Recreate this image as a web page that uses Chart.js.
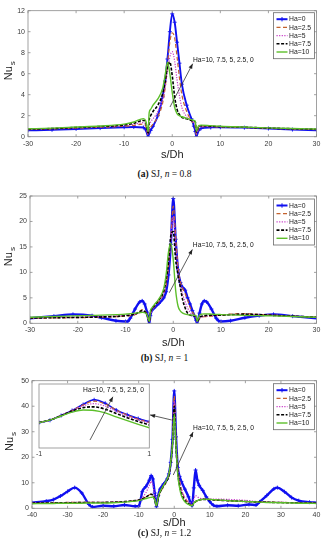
<!DOCTYPE html>
<html><head><meta charset="utf-8">
<script src="https://cdn.jsdelivr.net/npm/chart.js@4.4.1/dist/chart.umd.min.js"></script>
<style>
html,body{margin:0;padding:0;background:#fff;}
body{width:329px;height:550px;position:relative;overflow:hidden;}
canvas{position:absolute;display:block;}
.cap{position:absolute;left:0;width:329px;text-align:center;font-family:"Liberation Serif","DejaVu Serif",serif;font-size:9.5px;line-height:12px;color:#111;}
</style></head><body>
<canvas id="ca" width="329" height="165" style="left:0;top:0;width:329px;height:165px"></canvas>
<div class="cap" style="top:168px"><b>(a)</b> SJ, <i>n</i> = 0.8</div>
<canvas id="cb" width="329" height="170" style="left:0;top:180px;width:329px;height:170px"></canvas>
<div class="cap" style="top:352px"><b>(b)</b> SJ, <i>n</i> = 1</div>
<canvas id="cc" width="329" height="165" style="left:0;top:365px;width:329px;height:165px"></canvas>
<canvas id="ci" width="128" height="82" style="left:30px;top:378px;width:128px;height:82px"></canvas>
<div class="cap" style="top:527px"><b>(c)</b> SJ, <i>n</i> = 1.2</div>
<script>
// ---------- data ----------
const haLabels = ['Ha=0','Ha=2.5','Ha=5','Ha=7.5','Ha=10'];

// (a) n = 0.8
const xA = [-30,-25,-20,-15,-10,-8,-6,-5.5,-5,-4.8,-4.5,-4,-3,-2,-1.5,-1,-0.5,0,0.5,1,1.5,2,3,4,4.5,4.8,5,5.5,6,8,10,15,20,25,30];
const nuA_Ha0   = [0.6,0.66,0.74,0.82,0.9,0.92,0.88,0.65,0.0,0.35,0.6,1.0,2.0,3.8,5.3,7.4,10.0,11.7,10.9,9.0,7.0,5.0,3.0,1.7,1.0,0.5,0.0,0.6,0.8,0.88,0.9,0.86,0.78,0.68,0.6];
const nuA_Ha2_5 = [0.68,0.74,0.82,0.9,1.0,1.08,1.2,1.0,0.15,0.6,0.9,1.2,1.9,3.2,4.6,6.8,9.0,9.9,9.4,7.6,5.6,4.0,2.4,1.5,1.2,0.9,0.2,0.8,0.95,0.95,0.93,0.88,0.8,0.74,0.68];
const nuA_Ha5   = [0.7,0.76,0.85,0.93,1.05,1.17,1.35,1.15,0.25,1.0,1.4,1.7,2.4,3.6,4.6,6.2,7.6,8.1,7.2,5.4,3.9,2.8,1.9,1.5,1.35,1.2,0.3,0.9,1.0,0.97,0.95,0.89,0.81,0.75,0.7];
const nuA_Ha7_5 = [0.72,0.78,0.88,0.97,1.12,1.28,1.55,1.35,0.35,1.6,2.0,2.4,3.0,4.1,5.2,6.6,7.1,5.8,3.8,2.6,2.1,1.85,1.7,1.55,1.5,1.4,0.45,1.0,1.05,1.0,0.96,0.9,0.82,0.76,0.71];
const nuA_Ha10  = [0.75,0.82,0.92,1.02,1.2,1.4,1.72,1.5,0.5,2.3,2.6,3.0,3.6,4.6,5.8,7.1,6.0,4.2,2.8,2.2,2.0,1.9,1.75,1.62,1.55,1.45,0.55,1.05,1.1,1.05,1.0,0.92,0.84,0.78,0.73];
const xTicksA = [-30,-20,-10,0,10,20,30];
const yTicksA = [0,2,4,6,8,10,12];

// (b) n = 1
const xB = [-30,-25,-21,-17,-15,-12,-10,-9.5,-9,-8,-7,-6.5,-6,-5.5,-5,-4.8,-4.5,-4,-3,-2,-1.5,-1,-0.5,0,0.5,1,1.5,2,2.5,3,3.5,4,4.5,4.8,5,5.5,6,6.5,7,8,9,9.5,10,12,15,18,21,25,30];
const nuB_Ha0   = [1.0,1.4,1.75,1.5,1.1,0.5,0.35,0.4,1.0,2.8,4.2,4.4,3.8,2.2,0.0,1.5,2.5,3.0,3.9,5.0,6.2,9.5,15.5,24.5,16.5,10.5,8.0,7.0,6.5,5.0,3.8,2.5,1.3,0.6,0.0,2.0,3.8,4.4,4.2,2.8,1.0,0.5,0.35,0.5,1.1,1.5,1.75,1.4,1.0];
const nuB_Ha2_5 = [1.0,1.05,1.1,1.15,1.2,1.3,1.4,1.45,1.5,1.7,2.3,2.7,2.5,1.8,0.3,1.8,2.6,3.2,4.3,5.8,7.5,11,17,23,17,11,8.2,6.8,5.8,4.6,3.2,2.2,1.6,1.2,0.3,1.0,1.2,1.3,1.3,1.4,1.5,1.55,1.6,1.8,1.9,1.75,1.6,1.4,1.2];
const nuB_Ha5   = [1.05,1.15,1.2,1.3,1.35,1.45,1.55,1.6,1.65,1.8,2.1,2.3,2.2,1.6,0.3,1.5,2.5,3.3,4.5,6.0,7.8,11.5,16.5,21,15,10,7.5,5.6,4.2,3.0,2.2,1.6,1.3,1.1,0.3,1.0,1.2,1.35,1.4,1.5,1.55,1.6,1.6,1.7,1.75,1.7,1.6,1.4,1.2];
const nuB_Ha7_5 = [1.05,1.1,1.15,1.2,1.25,1.35,1.5,1.55,1.6,1.8,2.3,2.5,2.3,1.7,0.3,2.0,2.8,3.4,4.6,6.3,8.5,12,17.2,18,12.5,9.5,7.0,4.5,3.0,2.0,1.6,1.5,1.45,1.3,0.3,1.1,1.4,1.5,1.55,1.6,1.6,1.6,1.6,1.7,1.8,1.7,1.55,1.4,1.2];
const nuB_Ha10  = [1.2,1.35,1.45,1.55,1.6,1.7,1.8,1.85,1.9,2.0,2.1,2.15,2.1,1.7,0.4,2.3,3.0,3.6,4.8,6.8,9.5,14,15.8,12.5,6.5,3.4,2.4,2.0,1.8,1.7,1.65,1.6,1.55,1.45,0.4,1.6,1.8,1.85,1.85,1.8,1.75,1.75,1.7,1.65,1.55,1.5,1.45,1.35,1.2];
const xTicksB = [-30,-20,-10,0,10,20,30];
const yTicksB = [0,5,10,15,20,25];

// (c) n = 1.2
const xC = [-40,-36,-34,-32,-30,-28,-26,-24,-23,-20,-17,-14,-11,-10,-9.5,-9,-8,-7,-6.5,-6,-5.5,-5,-4.5,-4,-3,-2,-1.5,-1,-0.5,0,0.5,1,1.5,2,3,4,4.5,5,5.5,6,6.5,7,8,9,10,11,12,15,18,21,23,24,26,28,29,31,33,35,38,40];
const nuC_Ha0   = [2.2,2.8,3.4,4.8,6.6,8.1,6.0,1.5,0.5,1.0,0.8,1.3,0.8,0.8,3.0,6.5,8.5,11,12.8,11.5,6.0,0.6,5.0,7.5,9.5,11.5,13.5,18,27,46,28,16,12.5,10.5,7.5,4.5,2.5,1.0,8.0,15,11,9,7,4.5,2.6,1.2,0.8,1.2,1.0,1.5,1.3,2.5,5.0,7.6,8.1,6.5,4.2,3.0,2.4,2.2];
const nuC_Ha2_5 = [2.0,2.1,2.2,2.2,2.3,2.3,2.3,2.3,2.3,2.3,2.4,2.6,3.0,3.2,3.4,3.7,4.4,5.3,5.6,5.0,3.5,1.0,4.0,6.0,8.5,11,13,18,26,44,27,16,11,7.5,4.0,2.2,1.6,1.2,2.0,2.6,3.0,3.3,3.5,3.5,3.4,3.3,3.2,3.0,2.8,2.6,2.5,2.5,2.4,2.4,2.3,2.3,2.2,2.2,2.1,2.0];
const nuC_Ha5   = [2.0,2.1,2.2,2.2,2.3,2.3,2.3,2.3,2.3,2.3,2.4,2.6,3.0,3.3,3.6,4.2,6.0,9.0,10.5,9.0,5.0,1.0,4.5,6.5,9.0,11.5,13.3,18,26,42,26,15,10.5,7.5,4.2,2.8,2.2,1.5,3.5,5.0,4.5,4.0,3.8,3.7,3.7,3.6,3.6,3.5,3.3,3.0,2.7,2.6,2.5,2.4,2.3,2.3,2.2,2.2,2.1,2.0];
const nuC_Ha7_5 = [2.0,2.1,2.1,2.2,2.2,2.2,2.3,2.3,2.3,2.3,2.4,2.6,3.0,3.2,3.4,3.7,4.4,5.2,5.5,5.0,3.5,1.0,4.2,6.2,8.8,11,13,17.5,25,40,24,14,9.0,6.0,3.0,1.8,1.3,1.0,2.0,2.6,3.0,3.3,3.5,3.5,3.4,3.3,3.2,3.0,2.8,2.6,2.5,2.5,2.4,2.3,2.3,2.2,2.2,2.1,2.1,2.0];
const nuC_Ha10  = [1.8,1.9,1.9,2.0,2.0,2.0,2.0,2.1,2.1,2.1,2.2,2.4,2.8,3.0,3.2,3.4,3.8,4.2,4.3,4.4,3.5,1.0,4.5,6.5,9.0,11.5,13.5,18,25,37,24,13,8.0,5.0,2.5,1.5,1.2,1.0,2.0,2.6,3.0,3.3,3.5,3.6,3.5,3.4,3.3,3.0,2.8,2.6,2.5,2.4,2.3,2.3,2.2,2.2,2.1,2.0,1.95,1.9];
const xTicksC = [-40,-30,-20,-10,0,10,20,30,40];
const yTicksC = [0,10,20,30,40,50];

// (c) inset, -1 <= s/Dh <= 1
const xI = [-1,-0.8,-0.6,-0.4,-0.2,0,0.2,0.4,0.6,0.8,1];
const nuI_Ha0   = [31.9,33.0,35.2,37.6,40.4,42.6,41.0,37.8,35.6,33.8,32.3];
const nuI_Ha2_5 = [31.9,33.1,35.2,37.6,40.2,42.0,40.6,37.8,35.4,33.5,32.0];
const nuI_Ha5   = [31.9,33.1,35.2,37.5,39.8,40.8,39.6,37.2,35.0,33.2,31.7];
const nuI_Ha7_5 = [31.9,33.1,35.1,37.3,38.9,39.3,38.2,36.2,34.2,32.4,30.8];
const nuI_Ha10  = [31.9,33.1,35.0,36.8,37.8,37.6,36.5,34.6,32.8,31.1,29.5];
const xTicksI = [-1,1];
const yRangeI = [20,50];

const annText = 'Ha=10, 7.5, 5, 2.5, 0';

// ---------- styles ----------
const seriesStyle = [
  {color:'#1010f0', width:2.0, dash:[], marker:true},
  {color:'#c4622d', width:1.2, dash:[4,2.5], marker:false},
  {color:'#c83cc8', width:1.2, dash:[1.2,1.4], marker:false},
  {color:'#000000', width:1.6, dash:[3,1.6], marker:false},
  {color:'#5cbf2a', width:1.4, dash:[], marker:false}
];
const FONT = '"Liberation Sans", Arial, Helvetica, sans-serif';
Chart.defaults.font.family = FONT;

function drawArrow(ctx, x1, y1, x2, y2) {
  ctx.save();
  ctx.strokeStyle = '#333'; ctx.fillStyle = '#222'; ctx.lineWidth = 0.8;
  ctx.beginPath(); ctx.moveTo(x1, y1); ctx.lineTo(x2, y2); ctx.stroke();
  const a = Math.atan2(y2 - y1, x2 - x1), L = 5, W = 2;
  ctx.beginPath();
  ctx.moveTo(x2, y2);
  ctx.lineTo(x2 - L*Math.cos(a) + W*Math.sin(a), y2 - L*Math.sin(a) - W*Math.cos(a));
  ctx.lineTo(x2 - L*Math.cos(a) - W*Math.sin(a), y2 - L*Math.sin(a) + W*Math.cos(a));
  ctx.closePath(); ctx.fill();
  ctx.restore();
}

function makeFrame(cfg) {
  return {
    id: 'frame',
    beforeDatasetsDraw(chart) {
      if (!cfg.fillArea) return;
      const a = chart.chartArea, ctx = chart.ctx;
      ctx.save(); ctx.fillStyle = '#fff'; ctx.fillRect(a.left, a.top, a.width, a.height); ctx.restore();
    },
    afterDatasetsDraw(chart) {
      const ctx = chart.ctx, a = chart.chartArea, xs = chart.scales.x, ys = chart.scales.y;
      ctx.save();
      ctx.strokeStyle = '#8a8a8a'; ctx.lineWidth = 0.8;
      ctx.strokeRect(a.left, a.top, a.width, a.height);
      if (cfg.innerTicks) {
        const t = 2.5;
        ctx.beginPath();
        cfg.xTicks.forEach(v => { const p = xs.getPixelForValue(v);
          ctx.moveTo(p, a.bottom); ctx.lineTo(p, a.bottom - t);
          ctx.moveTo(p, a.top); ctx.lineTo(p, a.top + t); });
        cfg.yTicks.forEach(v => { const p = ys.getPixelForValue(v);
          ctx.moveTo(a.left, p); ctx.lineTo(a.left + t, p);
          ctx.moveTo(a.right, p); ctx.lineTo(a.right - t, p); });
        ctx.stroke();
      }
      // annotations
      (cfg.arrows || []).forEach(ar => {
        drawArrow(ctx, xs.getPixelForValue(ar[0]), ys.getPixelForValue(ar[1]),
                       xs.getPixelForValue(ar[2]), ys.getPixelForValue(ar[3]));
      });
      (cfg.texts || []).forEach(tx => {
        ctx.fillStyle = '#111'; ctx.font = '6.7px ' + FONT;
        ctx.textAlign = 'left'; ctx.textBaseline = 'middle';
        ctx.fillText(tx[2], xs.getPixelForValue(tx[0]), ys.getPixelForValue(tx[1]));
      });
      // legend
      if (cfg.legend) {
        const W = 41, H = 46;
        const x0 = a.right - 2 - W, y0 = a.top + cfg.legendTop;
        ctx.fillStyle = '#fff'; ctx.fillRect(x0, y0, W, H);
        ctx.strokeStyle = '#6a6a6a'; ctx.lineWidth = 0.8; ctx.strokeRect(x0, y0, W, H);
        chart.data.datasets.forEach((ds, i) => {
          const st = seriesStyle[i];
          const yy = y0 + 6.5 + i * 8.2;
          ctx.save();
          ctx.strokeStyle = st.color; ctx.lineWidth = st.width; ctx.setLineDash(st.dash);
          ctx.beginPath(); ctx.moveTo(x0 + 3, yy); ctx.lineTo(x0 + 14, yy); ctx.stroke();
          ctx.setLineDash([]);
          if (st.marker) {
            ctx.lineWidth = 1;
            ctx.beginPath(); ctx.moveTo(x0 + 8.5, yy - 2.2); ctx.lineTo(x0 + 8.5, yy + 2.2); ctx.stroke();
          }
          ctx.restore();
          ctx.fillStyle = '#222'; ctx.font = '6.8px ' + FONT;
          ctx.textAlign = 'left'; ctx.textBaseline = 'middle';
          ctx.fillText(ds.label, x0 + 15.5, yy + 0.3);
        });
      }
      // axis titles
      if (cfg.xTitleY) {
        ctx.fillStyle = '#222'; ctx.font = '11px ' + FONT;
        ctx.textAlign = 'center'; ctx.textBaseline = 'middle';
        ctx.fillText('s/Dh', (a.left + a.right) / 2, cfg.xTitleY);
      }
      if (cfg.yTitleX) {
        ctx.save();
        ctx.font = '11px ' + FONT; const w1 = ctx.measureText('Nu').width;
        ctx.font = '8px ' + FONT; const w2 = ctx.measureText('s').width;
        const tot = w1 + w2 + 1;
        ctx.translate(cfg.yTitleX, (a.top + a.bottom) / 2 - 3);
        ctx.rotate(-Math.PI / 2);
        ctx.fillStyle = '#222'; ctx.textAlign = 'left'; ctx.textBaseline = 'middle';
        ctx.font = '11px ' + FONT; ctx.fillText('Nu', -tot / 2, 0);
        ctx.font = '8px ' + FONT; ctx.fillText('s', -tot / 2 + w1 + 1, 4);
        ctx.restore();
      }
      ctx.restore();
    }
  };
}

function buildChart(id, xs, series, opt) {
  const datasets = series.map((ys, i) => {
    const st = seriesStyle[i];
    return {
      label: haLabels[i],
      data: xs.map((x, j) => ({x: x, y: ys[j]})),
      borderColor: st.color,
      borderWidth: (i === 0 && opt.blueWidth) ? opt.blueWidth : st.width,
      borderDash: st.dash,
      pointRadius: st.marker ? 2 : 0,
      pointStyle: 'cross',
      pointBorderColor: st.color,
      pointBorderWidth: 0.9,
      fill: false,
      cubicInterpolationMode: 'monotone',
      order: 4 - i
    };
  });
  return new Chart(document.getElementById(id), {
    type: 'line',
    data: {datasets},
    options: {
      responsive: false, animation: false, events: [],
      layout: {padding: {left: opt.padLeft || 0, right: opt.padRight, top: opt.padTop, bottom: 0}},
      plugins: {legend: {display: false}, tooltip: {enabled: false}},
      scales: {
        x: {
          type: 'linear', position: 'bottom',
          min: opt.xTicks[0], max: opt.xTicks[opt.xTicks.length - 1],
          afterBuildTicks: s => { s.ticks = opt.xTicks.map(v => ({value: v})); },
          afterFit: s => { s.height = opt.xAxisH; },
          grid: {display: false, drawTicks: false}, border: {display: false},
          ticks: {autoSkip: false, maxRotation: 0, padding: opt.xPad, color: '#3a3a3a', font: {size: 7}}
        },
        y: {
          display: opt.yDisplay !== false,
          min: opt.yMin, max: opt.yMax,
          afterBuildTicks: s => { if (opt.yTicks) s.ticks = opt.yTicks.map(v => ({value: v})); },
          afterFit: s => { s.width = opt.yAxisW; },
          grid: {display: false, drawTicks: false}, border: {display: false},
          ticks: {autoSkip: false, padding: 3, color: '#3a3a3a', font: {size: 7}}
        }
      }
    },
    plugins: [makeFrame(opt.frame)]
  });
}

// (a)
buildChart('ca', xA, [nuA_Ha0, nuA_Ha2_5, nuA_Ha5, nuA_Ha7_5, nuA_Ha10], {
  xTicks: xTicksA, yTicks: yTicksA, yMin: 0, yMax: 12,
  padRight: 12.5, padTop: 10.7, yAxisW: 28, xAxisH: 28.3, xPad: 3.5, blueWidth: 1.9,
  frame: {innerTicks: true, xTicks: xTicksA, yTicks: yTicksA, legend: true, legendTop: 2,
          xTitleY: 155, yTitleX: 8.5,
          arrows: [[-0.47, 2.83, 4.25, 6.95]], texts: [[4.3, 7.25, annText]]}
});
// (b)
buildChart('cb', xB, [nuB_Ha0, nuB_Ha2_5, nuB_Ha5, nuB_Ha7_5, nuB_Ha10], {
  xTicks: xTicksB, yTicks: yTicksB, yMin: 0, yMax: 25,
  padRight: 12.5, padTop: 16, yAxisW: 30, xAxisH: 26.7, xPad: 3, blueWidth: 2.4,
  frame: {innerTicks: true, xTicks: xTicksB, yTicks: yTicksB, legend: true, legendTop: 3,
          xTitleY: 163.3, yTitleX: 8.5,
          arrows: [[-0.83, 6.0, 4.0, 14.5]], texts: [[4.1, 15.3, annText]]}
});
// (c)
buildChart('cc', xC, [nuC_Ha0, nuC_Ha2_5, nuC_Ha5, nuC_Ha7_5, nuC_Ha10], {
  xTicks: xTicksC, yTicks: yTicksC, yMin: 0, yMax: 50,
  padRight: 12.5, padTop: 15.7, yAxisW: 32, xAxisH: 21.7, xPad: 3, blueWidth: 2.4,
  frame: {innerTicks: true, xTicks: xTicksC, yTicks: yTicksC, legend: true, legendTop: 3,
          xTitleY: 158.3, yTitleX: 10,
          arrows: [[-0.27, 13.05, 5.3, 29.9], [-0.72, 34.6, -6.8, 36.6]], texts: [[5.3, 31.5, annText]]}
});
// (c) inset
buildChart('ci', xI, [nuI_Ha0, nuI_Ha2_5, nuI_Ha5, nuI_Ha7_5, nuI_Ha10], {
  xTicks: xTicksI, yTicks: null, yMin: yRangeI[0], yMax: yRangeI[1], yDisplay: false,
  padLeft: 9, padRight: 8.7, padTop: 6, yAxisW: 0, xAxisH: 12, xPad: 2, blueWidth: 1.6,
  frame: {fillArea: true, innerTicks: false, legend: false,
          arrows: [[-0.075, 23.75, 0.34, 44.0]], texts: [[-0.2, 46.9, annText]]}
});
</script>
</body></html>
